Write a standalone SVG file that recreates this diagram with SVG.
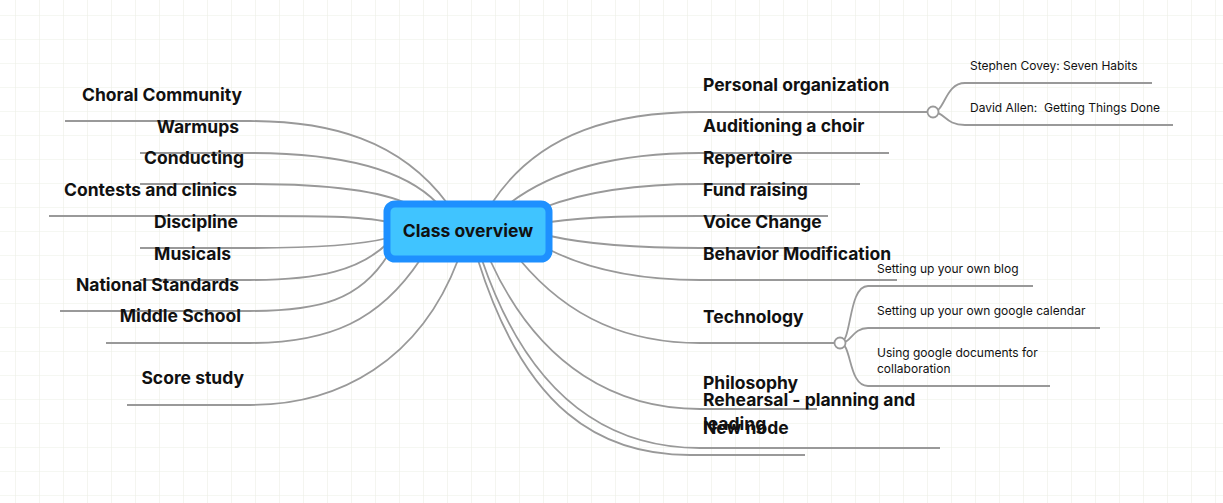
<svg xmlns="http://www.w3.org/2000/svg" width="1223" height="503" viewBox="0 0 1223 503">
<defs>
<pattern id="grid" x="15" y="15" width="24" height="24" patternUnits="userSpaceOnUse">
<path d="M0 0H24M0 0V24" fill="none" stroke="#ecefe6" stroke-width="1.2"/>
</pattern>
</defs>
<style>
.c{fill:none;stroke:#999;stroke-width:1.8}
.t{font-family:Inter,"Liberation Sans",sans-serif;font-weight:700;font-size:17.5px;fill:#111}
.l{text-anchor:end}
.s{font-family:Inter,"Liberation Sans",sans-serif;font-size:12px;fill:#111}
</style>
<rect width="1223" height="503" fill="#fff"/>
<rect width="1223" height="503" fill="url(#grid)"/>
<g id="connectors">
<path class="c" d="M447 203C400 140 330 121 250 121L65 121"/>
<path class="c" d="M437 203C400 165 330 153 250 153L140 153"/>
<path class="c" d="M410 205C380 190 320 184 250 184L140 184"/>
<path class="c" d="M388 222C360 216 320 216 250 216L49 216"/>
<path class="c" d="M388 238C360 245 320 248 250 248L140 248"/>
<path class="c" d="M388 243C360 270 320 280 250 280L140 280"/>
<path class="c" d="M388 255C360 300 320 311 250 311L60 311"/>
<path class="c" d="M420 260C380 320 330 343 250 343L106 343"/>
<path class="c" d="M458 260C420 360 340 405 250 405L127 405"/>
<path class="c" d="M492 203C540 130 620 112 700 112L933 112"/>
<path class="c" d="M510 203C560 165 630 153 700 153L889 153"/>
<path class="c" d="M545 207C590 190 640 184 700 184L860 184"/>
<path class="c" d="M550 222C590 216 640 216 700 216L828 216"/>
<path class="c" d="M550 236C590 245 640 248 700 248L830 248"/>
<path class="c" d="M550 250C590 270 640 280 700 280L897 280"/>
<path class="c" d="M520 260C570 320 630 343 700 343L840 343"/>
<path class="c" d="M490 260C540 370 620 409 700 409L817 409"/>
<path class="c" d="M482 260C530 400 610 448 700 448L940 448"/>
<path class="c" d="M478 260C525 410 600 455 690 455L805 455"/>
<path class="c" d="M933 112C945 112 945 83 965 83L1152 83"/>
<path class="c" d="M933 112C945 112 945 125 965 125L1173 125"/>
<path class="c" d="M840 343C852 343 848 286 868 286L1033 286"/>
<path class="c" d="M840 343C852 343 852 328 868 328L1100 328"/>
<path class="c" d="M840 343C852 343 848 386 868 386L1050 386"/>
<circle cx="933" cy="112" r="5.5" fill="#fff" stroke="#999" stroke-width="1.8"/>
<circle cx="840" cy="343" r="5.5" fill="#fff" stroke="#999" stroke-width="1.8"/>
</g>
<g id="center"><rect x="387" y="204" width="162" height="55" rx="8" fill="#40C4FF" stroke="#1E90FF" stroke-width="7"/><text x="468" y="237" text-anchor="middle" class="t">Class overview</text></g>
<g id="n-choral"><text class="t l" x="242" y="101">Choral Community</text></g>
<g id="n-warmups"><text class="t l" x="239" y="133">Warmups</text></g>
<g id="n-conducting"><text class="t l" x="244" y="164">Conducting</text></g>
<g id="n-contests"><text class="t l" x="237" y="196">Contests and clinics</text></g>
<g id="n-discipline"><text class="t l" x="238" y="228">Discipline</text></g>
<g id="n-musicals"><text class="t l" x="231" y="260">Musicals</text></g>
<g id="n-national"><text class="t l" x="239" y="291">National Standards</text></g>
<g id="n-middle"><text class="t l" x="241" y="322">Middle School</text></g>
<g id="n-score"><text class="t l" x="244" y="384">Score study</text></g>
<g id="n-personal"><text class="t" x="703" y="91">Personal organization</text></g>
<g id="n-audition"><text class="t" x="703" y="132">Auditioning a choir</text></g>
<g id="n-repertoire"><text class="t" x="703" y="164">Repertoire</text></g>
<g id="n-fund"><text class="t" x="703" y="196">Fund raising</text></g>
<g id="n-voice"><text class="t" x="703" y="228">Voice Change</text></g>
<g id="n-behavior"><text class="t" x="703" y="260">Behavior Modification</text></g>
<g id="n-tech"><text class="t" x="703" y="323">Technology</text></g>
<g id="n-philosophy"><text class="t" x="703" y="389">Philosophy</text></g>
<g id="n-rehearsal"><text class="t" x="703" y="406">Rehearsal - planning and</text><text class="t" x="703" y="430">leading</text></g>
<g id="n-new"><text class="t" x="703" y="434">New node</text></g>
<g id="n-covey"><text class="s" x="970" y="70">Stephen Covey: Seven Habits</text></g>
<g id="n-allen"><text class="s" x="970" y="112" xml:space="preserve">David Allen:  Getting Things Done</text></g>
<g id="n-blog"><text class="s" x="877" y="273">Setting up your own blog</text></g>
<g id="n-cal"><text class="s" x="877" y="315">Setting up your own google calendar</text></g>
<g id="n-docs"><text class="s" x="877" y="357">Using google documents for</text><text class="s" x="877" y="373">collaboration</text></g>
</svg>
